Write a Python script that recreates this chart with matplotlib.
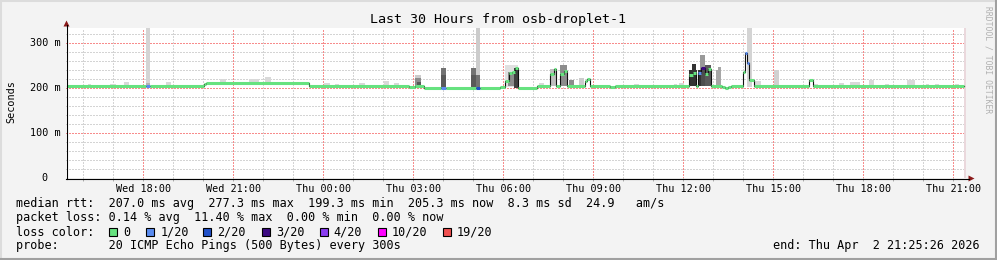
import matplotlib
matplotlib.use("Agg")
import matplotlib.pyplot as plt
from matplotlib.patches import Polygon, Rectangle
from matplotlib.transforms import blended_transform_factory

# ---------------- data ----------------
# time axis: hours since Wed 00:00
END_H = 45.424          # Thu 21:25:26
SPAN_H = 30.0
LAST_DATA_H = 45.36

tick_hours = [18, 21, 24, 27, 30, 33, 36, 39, 42, 45]
tick_labels = ["Wed 18:00", "Wed 21:00", "Thu 00:00", "Thu 03:00", "Thu 06:00",
               "Thu 09:00", "Thu 12:00", "Thu 15:00", "Thu 18:00", "Thu 21:00"]
minor_hours = [16, 17, 19, 20, 22, 23, 25, 26, 28, 29, 31, 32, 34, 35, 37, 38,
               40, 41, 43, 44]
ytick_vals = [0, 100, 200, 300]
ytick_labels = ["0", "100 m", "200 m", "300 m"]
yminor_vals = [20, 40, 60, 80, 120, 140, 160, 180, 220, 240, 260, 280, 320]

# median rtt (ms): segment start time, value, loss class index
med_t = [15.45, 18.10, 18.23, 20.03, 20.10, 23.53, 26.87, 27.07, 27.37, 27.93,
         28.10, 29.10, 29.23, 29.90, 30.07, 30.20, 30.30, 30.40, 30.50, 31.13,
         31.57, 31.70, 31.77, 31.90, 32.03, 32.13, 32.73, 32.80, 32.90, 33.57,
         33.73, 36.20, 36.33, 36.43, 36.50, 36.60, 36.73, 36.83, 36.93, 37.30,
         37.40, 37.50, 37.60, 38.00, 38.07, 38.13, 38.20, 38.37, 40.20, 40.33]
med_v = [205, 205, 205, 208, 211, 205, 203, 204, 200, 200,
         200, 200, 200, 203, 215, 233, 235, 244, 200, 205,
         230, 242, 205, 230, 238, 205, 216, 219, 205, 203,
         205, 228, 233, 205, 233, 245, 232, 243, 205, 203,
         199, 203, 205, 236, 277, 256, 218, 205, 218, 205]
med_loss = [0, 1, 0, 0, 0, 0, 0, 0, 0, 1,
            0, 2, 0, 0, 0, 0, 0, 0, 0, 0,
            0, 0, 0, 0, 0, 0, 0, 0, 0, 0,
            0, 0, 0, 0, 1, 3, 0, 0, 0, 0,
            0, 0, 0, 0, 1, 1, 0, 0, 0, 0]

# smoke (ping spread) blocks: start, end, low ms, high ms, density
smoke_t0 = [16.17, 16.90, 17.37, 18.10, 18.10, 18.77, 20.57, 21.53, 22.07, 24.03,
            24.40, 25.20, 26.03, 26.37, 27.07, 27.07, 27.13, 27.93, 27.93, 28.93,
            28.93, 29.10, 29.10, 30.07, 30.17, 30.37, 31.20, 31.57, 31.90, 32.20,
            32.53, 34.37, 35.70, 35.87, 36.20, 36.30, 36.57, 36.50, 36.60, 36.73,
            37.10, 37.17, 38.13, 38.40, 39.03, 40.37, 41.20, 41.57, 42.20, 42.73,
            43.47, 44.10, 44.40, 45.07]
smoke_t1 = [16.27, 17.10, 17.53, 18.23, 18.23, 18.93, 20.77, 21.87, 22.27, 24.23,
            24.53, 25.40, 26.20, 26.53, 27.27, 27.27, 27.27, 28.10, 28.10, 29.10,
            29.10, 29.23, 29.23, 30.50, 30.37, 30.53, 31.37, 31.77, 32.13, 32.37,
            32.70, 34.53, 35.80, 36.03, 36.47, 36.43, 36.73, 36.60, 36.73, 36.93,
            37.27, 37.27, 38.30, 38.60, 39.20, 40.50, 41.37, 41.90, 42.37, 42.87,
            43.73, 44.20, 44.53, 45.20]
smoke_lo = [203, 203, 203, 203, 203, 203, 207, 208, 208, 203,
            203, 203, 203, 203, 200, 200, 200, 198, 198, 198,
            198, 198, 198, 203, 205, 200, 203, 205, 205, 205,
            205, 203, 203, 203, 205, 205, 205, 205, 205, 205,
            205, 205, 203, 203, 203, 203, 203, 203, 203, 203,
            203, 203, 203, 203]
smoke_hi = [209, 208, 213, 335, 211, 213, 220, 220, 224, 212,
            209, 211, 215, 211, 229, 222, 214, 244, 228, 244,
            228, 335, 229, 250, 236, 244, 210, 242, 251, 217,
            222, 209, 209, 211, 240, 253, 273, 240, 245, 251,
            240, 247, 335, 215, 240, 209, 211, 213, 217, 209,
            217, 209, 209, 209]
smoke_dens = [.15, .15, .15, .17, .30, .15, .15, .15, .15, .15,
              .15, .15, .15, .15, .20, .45, .65, .55, .65, .55,
              .65, .20, .55, .12, .45, .75, .15, .25, .45, .45,
              .20, .15, .15, .15, .80, .80, .40, .80, .70, .65,
              .35, .35, .17, .15, .18, .15, .15, .15, .15, .15,
              .15, .15, .15, .15]

loss_labels = ["0", "1/20", "2/20", "3/20", "4/20", "10/20", "19/20"]
loss_colors = ["#66e27f", "#5a8cf0", "#2050c8", "#3c0a82", "#8a3cf0", "#ff00ff", "#f05050"]

title = "Last 30 Hours from osb-droplet-1"
stats_lines = [
    "median rtt:  207.0 ms avg  277.3 ms max  199.3 ms min  205.3 ms now  8.3 ms sd  24.9   am/s",
    "packet loss: 0.14 % avg  11.40 % max  0.00 % min  0.00 % now",
    "loss color:",
    "probe:       20 ICMP Echo Pings (500 Bytes) every 300s",
]
end_text = "end: Thu Apr  2 21:25:26 2026"

# ---------------- figure ----------------
W, H = 997, 260
MONO = "DejaVu Sans Mono"
fig = plt.figure(figsize=(W / 100, H / 100), dpi=100, facecolor="#f3f3f3")

L, R, T, B = 66.0, 966.0, 28.0, 178.0
ax = fig.add_axes([L / W, 1 - B / H, (R - L) / W, (B - T) / H])
ax.set_facecolor("white")
ax.set_xlim(END_H - SPAN_H, END_H)
ax.set_ylim(0, 333.33)
for s in ax.spines.values():
    s.set_visible(False)

# grid (drawn as lines so minor never covers major)
dot = (0, (1.4, 1.4))
for h in minor_hours:
    ax.axvline(h, color="#d4d4d4", lw=0.72, ls=dot, antialiased=False, snap=True, zorder=0.5)
for v in yminor_vals:
    ax.axhline(v, color="#d4d4d4", lw=0.72, ls=dot, antialiased=False, snap=True, zorder=0.5)
for h in tick_hours:
    ax.axvline(h, color="#f78c8c", lw=0.72, ls=dot, antialiased=False, snap=True, zorder=0.6)
for v in ytick_vals[1:]:
    ax.axhline(v, color="#f78c8c", lw=0.72, ls=dot, antialiased=False, snap=True, zorder=0.6)

ax.set_xticks(tick_hours)
ax.set_xticks(minor_hours, minor=True)
ax.set_yticks([])
ax.set_xticklabels(tick_labels, fontfamily=MONO, fontsize=7.3)
ax.tick_params(axis="x", which="both", length=2.5, width=0.7, color="#aaaaaa", pad=1.5)

# "now" band
ax.axvspan(LAST_DATA_H, END_H, color="#ead8dc", lw=0, zorder=1)

# smoke
for t0, t1, lo, hi, d in zip(smoke_t0, smoke_t1, smoke_lo, smoke_hi, smoke_dens):
    g = 1 - d
    ax.bar(t0, hi - lo, bottom=lo, width=t1 - t0, align="edge",
           color=(g, g, g), lw=0, zorder=2)

# median: black step + coloured loss segments
t_ext = med_t + [LAST_DATA_H]
v_ext = med_v + [med_v[-1]]
ax.step(t_ext, v_ext, where="post", color="#101010", lw=0.8, zorder=3)
ax.hlines(med_v, med_t, t_ext[1:], colors=[loss_colors[k] for k in med_loss],
          lw=2.2, zorder=4)

# y tick labels
ytr = blended_transform_factory(fig.transFigure, ax.transData)
for v, lab in zip(ytick_vals, ytick_labels):
    xpx = 60.5 if lab != "0" else 47.5
    ax.text(xpx / W, v, lab, transform=ytr, ha="right", va="center",
            fontfamily=MONO, fontsize=7.3)

# ---------------- overlay in pixel coords ----------------
ov = fig.add_axes([0, 0, 1, 1], facecolor="none", zorder=5)
ov.set_xlim(0, W)
ov.set_ylim(H, 0)
ov.axis("off")

# axes lines and arrows
ov.plot([L + 0.5, L + 0.5], [B + 0.5, 25], color="black", lw=0.8)
ov.plot([L, 969], [B + 0.5, B + 0.5], color="black", lw=0.8)
ov.add_patch(Polygon([[L - 2.5, 26.5], [L + 3.5, 26.5], [L + 0.5, 20.5]], closed=True,
                     color="#8b1a1a", lw=0))
ov.add_patch(Polygon([[968.5, B - 2.5], [968.5, B + 3.5], [974.5, B + 0.5]], closed=True,
                     color="#8b1a1a", lw=0))

# frame
ov.plot([0, W], [1, 1], color="#dcdcdc", lw=1.5)
ov.plot([1, 1], [0, H], color="#dcdcdc", lw=1.5)
ov.plot([0, W], [H - 1, H - 1], color="#a0a0a0", lw=1.5)
ov.plot([W - 1, W - 1], [0, H], color="#a0a0a0", lw=1.5)

# title, labels
ov.text(498, 19, title, ha="center", va="center", fontfamily=MONO, fontsize=9.6)
ov.text(11, 102, "Seconds", rotation=90, ha="center", va="center", fontfamily=MONO, fontsize=7.3)
ov.text(988, 60, "RRDTOOL / TOBI OETIKER", rotation=-90, ha="center", va="center",
        fontfamily=MONO, fontsize=5.8, color="#b0b0b0")

rows_y = [204, 218, 232, 246]
for y, s in zip(rows_y, stats_lines):
    ov.text(16, y, s, ha="left", va="center", fontfamily=MONO, fontsize=8.47)
ov.text(980, 246, end_text, ha="right", va="center", fontfamily=MONO, fontsize=8.47)

box_x = [108.5, 145.5, 203.0, 261.5, 319.5, 377.5, 442.5]
lab_x = [123.3, 160.7, 217.3, 276.0, 333.3, 391.7, 456.7]
for bx, lx, c, lab in zip(box_x, lab_x, loss_colors, loss_labels):
    ov.add_patch(Rectangle((bx, 228), 8, 8, facecolor=c, edgecolor="black", lw=0.8))
    ov.text(lx, 232, lab, ha="left", va="center", fontfamily=MONO, fontsize=8.47)

fig.savefig("out.png", dpi=100, facecolor=fig.get_facecolor())
